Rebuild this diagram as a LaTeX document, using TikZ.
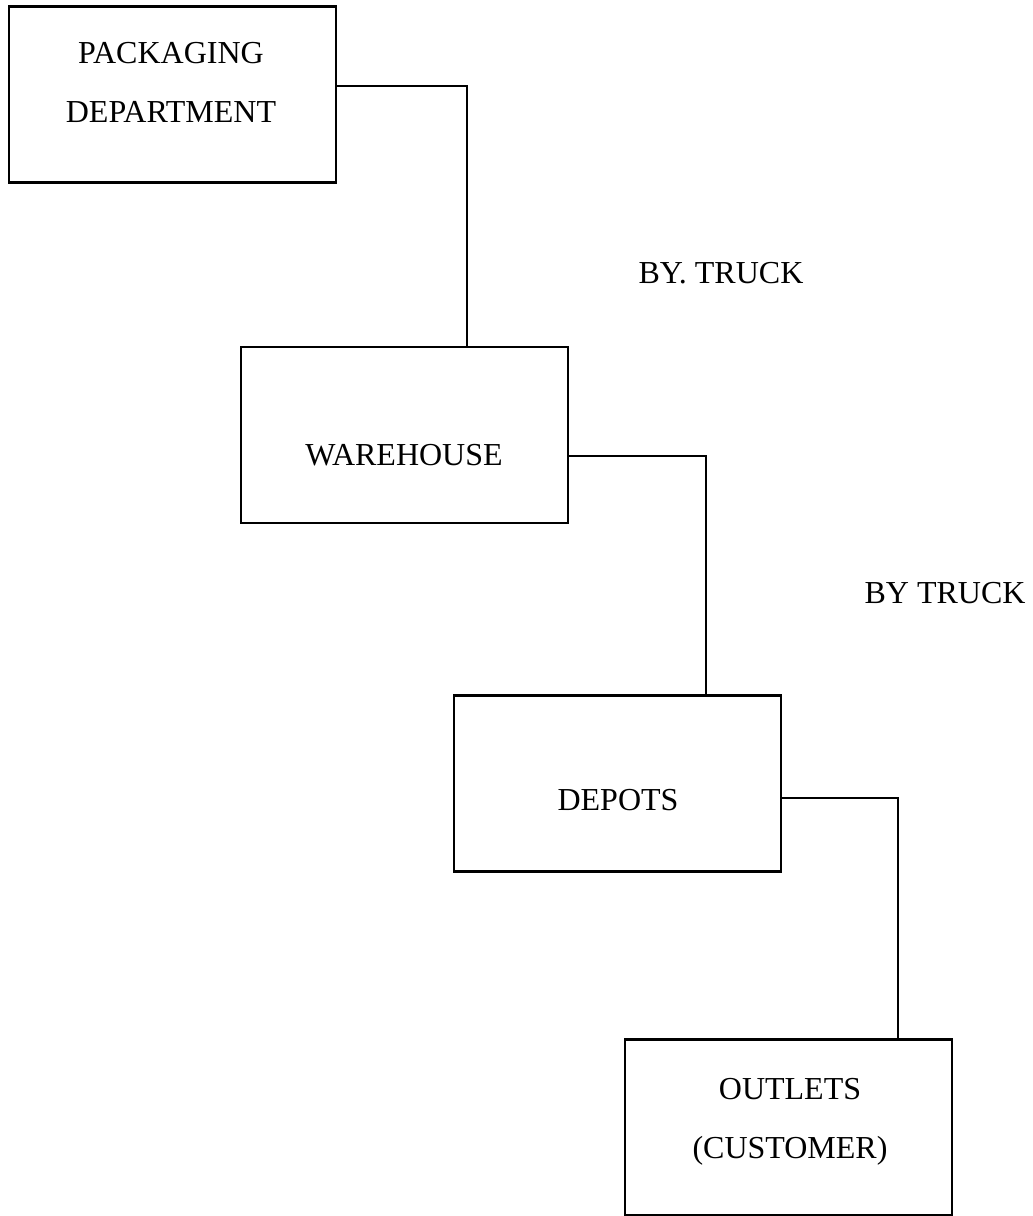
\documentclass[tikz,border=0pt]{standalone}
\usepackage{fontspec}
\setmainfont{Liberation Serif}
\usetikzlibrary{positioning}
\begin{document}
\begin{tikzpicture}[x=0.5pt,y=-0.5pt,line width=1.3pt,
    font=\fontsize{16}{29.5}\selectfont,
    unit/.style={draw,minimum width=163.5pt,minimum height=88pt,inner sep=0pt},
    lbl/.style={anchor=base,align=center,inner sep=0pt}]
  \useasboundingbox (0,0) rectangle (1033,1216);
  % boxes
  \node[unit] (pack) at (172.5,94.5) {};
  \node[unit] (ware) at (404.5,435) {};
  \node[unit] (depot) at (617.5,783.5) {};
  \node[unit] (outlet) at (788.5,1127.5) {};
  % texts (base = last line)
  \node[lbl] (packtxt) at (171,122) {PACKAGING\\DEPARTMENT};
  \node[lbl] (waretxt) at (404,465) {WAREHOUSE};
  \node[lbl] (depottxt) at (618,810) {DEPOTS};
  \node[lbl] (outlettxt) at (790,1158) {OUTLETS\\(CUSTOMER)};
  \node[lbl] (truck1) at (721,283) {BY. TRUCK};
  \node[lbl] (truck2) at (945,603) {BY TRUCK};
  % connectors
  \coordinate (k1) at (467,86);
  \coordinate (k2) at (706,456);
  \coordinate (k3) at (898,798);
  \draw (k1 -| pack.east) -- (k1) -- (k1 |- ware.north);
  \draw (k2 -| ware.east) -- (k2) -- (k2 |- depot.north);
  \draw (k3 -| depot.east) -- (k3) -- (k3 |- outlet.north);
\end{tikzpicture}
\end{document}
